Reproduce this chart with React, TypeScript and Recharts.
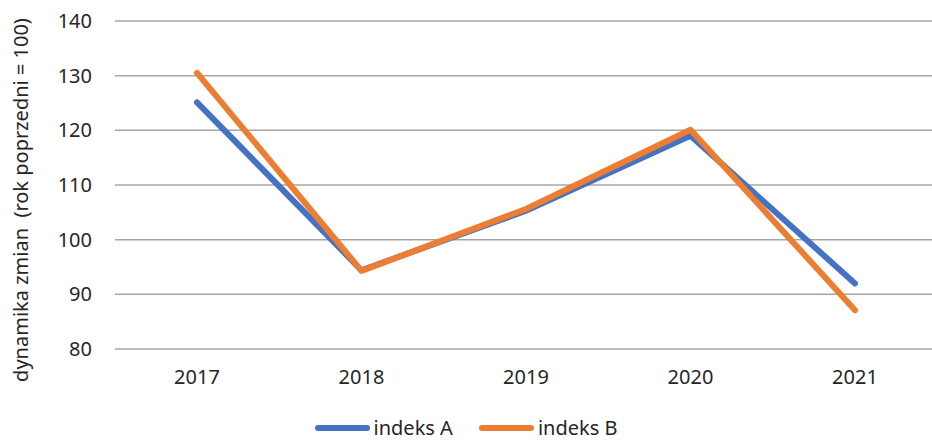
import React from 'react';
import { LineChart, Line, XAxis, YAxis, CartesianGrid, Legend } from 'recharts';

const years = ['2017', '2018', '2019', '2020', '2021'];
const indeksA = [125.1, 94.4, 105.3, 119.0, 92.0];
const indeksB = [130.5, 94.3, 105.6, 120.1, 87.1];
const yTicks = [80, 90, 100, 110, 120, 130, 140];
const seriesNames = ['indeks A', 'indeks B'];
const colors = ['#4472C4', '#ED7D31'];

const data = years.map((y, i) => ({ year: y, a: indeksA[i], b: indeksB[i] }));

const FONT = '"Noto Sans", "Open Sans", sans-serif';

const LegendContent = () => (
  <div style={{ height: 43, position: 'relative', fontFamily: FONT, fontSize: 20, color: '#262626' }}>
    <div style={{ position: 'absolute', top: 21, left: 0, width: 932, height: 16, display: 'flex', justifyContent: 'center', alignItems: 'center' }}>
      {seriesNames.map((n, i) => (
        <div key={n} style={{ display: 'flex', alignItems: 'center', marginLeft: i === 0 ? 0 : 26, height: 16 }}>
          <div style={{ width: 55, height: 6, borderRadius: 3, background: colors[i], marginRight: 4 }} />
          <span style={{ display: 'inline-block', height: 16, lineHeight: '16px', whiteSpace: 'nowrap' }}>{n}</span>
        </div>
      ))}
    </div>
  </div>
);

export default function App() {
  return (
    <div style={{ position: 'absolute', left: 0, top: 0, width: 932, height: 442, overflow: 'hidden', background: '#fff' }}>
      <LineChart width={940} height={442} data={data} margin={{ top: 21, right: 3, left: 0, bottom: 0 }}>
        <CartesianGrid vertical={false} stroke="#A6A6A6" strokeWidth={1.5} />
        <XAxis
          dataKey="year"
          axisLine={false}
          tickLine={false}
          tickSize={0}
          tickMargin={21}
          height={50}
          padding={{ left: 82, right: 82 }}
          tick={{ fill: '#262626', fontSize: 20, fontFamily: FONT }}
        />
        <YAxis
          domain={[80, 140]}
          ticks={yTicks}
          axisLine={false}
          tickLine={false}
          tickSize={0}
          tickMargin={23}
          width={115}
          tick={{ fill: '#262626', fontSize: 20, fontFamily: FONT }}
          label={{
            content: () => (
              <text x={20} y={200} transform="rotate(-90 20 200)" textAnchor="middle" dominantBaseline="central" fill="#262626" fontSize={20} fontFamily={FONT} style={{ whiteSpace: 'pre' }}>
                dynamika zmian  (rok poprzedni = 100)
              </text>
            ),
          }}
        />
        <Legend verticalAlign="bottom" wrapperStyle={{ left: 0, width: 932, bottom: 0 }} content={LegendContent} />
        <Line type="linear" dataKey="a" name={seriesNames[0]} stroke={colors[0]} strokeWidth={6} strokeLinecap="round" strokeLinejoin="round" dot={false} activeDot={false} isAnimationActive={false} />
        <Line type="linear" dataKey="b" name={seriesNames[1]} stroke={colors[1]} strokeWidth={6} strokeLinecap="round" strokeLinejoin="round" dot={false} activeDot={false} isAnimationActive={false} />
      </LineChart>
    </div>
  );
}
